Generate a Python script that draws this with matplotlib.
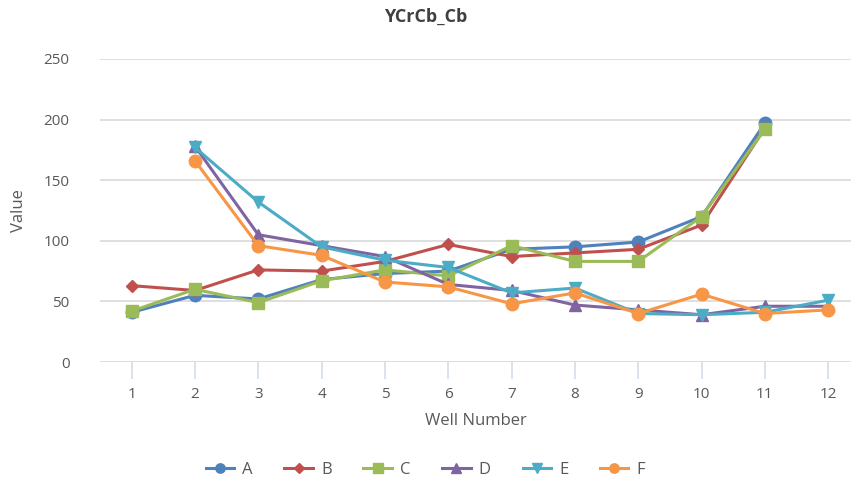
import numpy as np
import matplotlib
matplotlib.use("Agg")
import matplotlib.pyplot as plt

plt.rcParams['font.family'] = ['Open Sans', 'DejaVu Sans']

# Data
wells = [1, 2, 3, 4, 5, 6, 7, 8, 9, 10, 11, 12]
nan = np.nan
A = [41, 55, 52, 68, 73, 75, 93, 95, 99, 120, 197, nan]
B = [63, 59, 76, 75, 83, 97, 87, 90, 93, 113, 193, nan]
C = [42, 60, 49, 67, 76, 71, 96, 83, 83, 120, 192, nan]
D = [nan, 178, 105, 96, 87, 64, 59, 47, 43, 39, 46, 46]
E = [nan, 177, 132, 95, 84, 78, 57, 61, 40, 39, 41, 51]
F = [nan, 166, 96, 88, 66, 62, 48, 57, 40, 56, 40, 43]

series = {"A": A, "B": B, "C": C, "D": D, "E": E, "F": F}
colors = {"A": "#4F81BD", "B": "#C0504D", "C": "#9BBB59",
          "D": "#8064A2", "E": "#4BACC6", "F": "#F79646"}
markers = {"A": "o", "B": "D", "C": "s", "D": "^", "E": "v", "F": "o"}
msizes = {"A": 9, "B": 6.5, "C": 9, "D": 9, "E": 9, "F": 9}

fig = plt.figure(figsize=(8.51, 4.84), dpi=100)
ax = fig.add_axes([100 / 851, 1 - 362 / 484, 751 / 851, 303 / 484])

for name, vals in series.items():
    ax.plot(wells, vals, color=colors[name], marker=markers[name],
            markersize=msizes[name], linewidth=2.2, label=name)

ax.set_ylim(0, 250)
ax.set_yticks([0, 50, 100, 150, 200, 250])
ax.set_xlim(0.5, 12.36)
ax.set_xticks(wells)
ax.grid(axis="y", color="#D9D9D9", linewidth=1.2)
ax.set_axisbelow(True)
for s in ax.spines.values():
    s.set_visible(False)
ax.tick_params(axis="y", length=0, pad=22, labelsize=11, labelcolor="#595959")
ax.tick_params(axis="x", length=12, width=1.2, color="#D3DDEA", pad=6,
               labelsize=11, labelcolor="#595959")

ax.set_xlabel("Well Number", fontsize=12, color="#595959", labelpad=8)
ax.set_ylabel("Value", fontsize=12, color="#595959", labelpad=12)
fig.text(0.5, 1 - 17 / 484, "YCrCb_Cb", ha="center", va="center",
         fontsize=13, fontweight="bold", color="#404040")

leg = fig.legend(loc="center", bbox_to_anchor=(0.5, 1 - 470 / 484), ncol=6,
                 frameon=False, fontsize=12, handlelength=1.7,
                 columnspacing=1.9, handletextpad=0.5, markerscale=0.75)
for t in leg.get_texts():
    t.set_color("#595959")

fig.savefig("out.png", dpi=100)
